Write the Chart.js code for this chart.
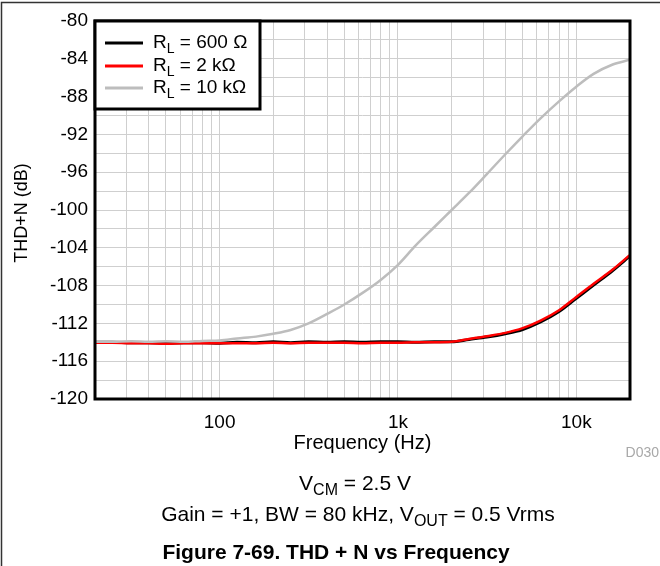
<!DOCTYPE html>
<html>
<head>
<meta charset="utf-8">
<script src="https://cdn.jsdelivr.net/npm/chart.js@4.4.1/dist/chart.umd.min.js"></script>
<style>
  html, body { margin: 0; padding: 0; background: #fff; }
  #c { display: block; }
</style>
</head>
<body>
<canvas id="c" width="660" height="566"></canvas>
<script>
// ---- data ----
const freqs = [20, 25, 32, 40, 50, 63, 80, 100, 125, 160, 200, 250, 315, 400, 500, 630, 800,
  1000, 1250, 1600, 2000, 2500, 3150, 4000, 5000, 6300, 8000, 10000, 12500, 16000, 20000];

const thd600 = [-114.0, -114.0, -114.05, -114.05, -114.1, -114.05, -114.05, -114.1, -114.0, -114.05,
  -113.95, -114.05, -113.95, -114.0, -113.95, -114.0, -113.95, -113.95, -114.0, -113.95, -113.95,
  -113.7, -113.45, -113.1, -112.65, -111.85, -110.75, -109.35, -107.95, -106.4, -104.85];

const thd2k = [-114.05, -114.05, -114.1, -114.1, -114.15, -114.1, -114.1, -114.1, -114.1, -114.1,
  -114.05, -114.1, -114.05, -114.05, -114.05, -114.1, -114.05, -114.05, -114.0, -114.0, -113.95,
  -113.65, -113.35, -113.0, -112.5, -111.7, -110.6, -109.2, -107.8, -106.3, -104.75];

const thd10k = [-113.95, -113.95, -113.9, -113.95, -113.9, -113.95, -113.85, -113.8, -113.6, -113.4,
  -113.1, -112.7, -112.0, -111.0, -110.0, -108.8, -107.4, -105.8, -103.8, -101.8, -100.0,
  -98.2, -96.2, -94.1, -92.2, -90.3, -88.5, -86.95, -85.6, -84.6, -84.1];

const seriesNames = [
  [{t: 'R'}, {t: 'L', sub: true}, {t: ' = 600 Ω'}],
  [{t: 'R'}, {t: 'L', sub: true}, {t: ' = 2 kΩ'}],
  [{t: 'R'}, {t: 'L', sub: true}, {t: ' = 10 kΩ'}]
];
const seriesColors = ['#000000', '#ff0000', '#bdbdbd'];

const xGridValues = [20, 30, 40, 50, 60, 70, 80, 90, 100, 200, 300, 400, 500, 600, 700, 800, 900,
  1000, 2000, 3000, 4000, 5000, 6000, 7000, 8000, 9000, 10000, 20000];
const xTickLabels = {100: '100', 1000: '1k', 10000: '10k'};

const yGridValues = [-120, -118, -116, -114, -112, -110, -108, -106, -104, -102, -100,
  -98, -96, -94, -92, -90, -88, -86, -84, -82, -80];
const yTickLabels = [-120, -116, -112, -108, -104, -100, -96, -92, -88, -84, -80];

const xTitle = 'Frequency (Hz)';
const yTitle = 'THD+N (dB)';
const noteLine1 = [{t: 'V'}, {t: 'CM', sub: true}, {t: ' = 2.5 V'}];
const noteLine2 = [{t: 'Gain = +1, BW = 80 kHz, V'}, {t: 'OUT', sub: true}, {t: ' = 0.5 Vrms'}];
const figTitle = 'Figure 7-69. THD + N vs Frequency';
const docId = 'D030';

// ---- helpers ----
const FONT = "'Liberation Sans', Arial, Helvetica, sans-serif";
function pts(vals) { return freqs.map((f, i) => ({x: f, y: vals[i]})); }

function richWidth(ctx, parts, size, weight) {
  let w = 0;
  for (const p of parts) {
    ctx.font = `${weight} ${p.sub ? Math.round(size * 0.76) : size}px ${FONT}`;
    w += ctx.measureText(p.t).width;
  }
  return w;
}
function drawRich(ctx, parts, x, y, size, align, weight = 'normal', color = '#000') {
  const w = richWidth(ctx, parts, size, weight);
  let cx = align === 'center' ? x - w / 2 : (align === 'right' ? x - w : x);
  ctx.fillStyle = color;
  ctx.textBaseline = 'middle';
  ctx.textAlign = 'left';
  for (const p of parts) {
    const s = p.sub ? Math.round(size * 0.76) : size;
    ctx.font = `${weight} ${s}px ${FONT}`;
    ctx.fillText(p.t, cx, p.sub ? y + size * 0.3 : y);
    cx += ctx.measureText(p.t).width;
  }
}

const decorPlugin = {
  id: 'decor',
  afterDraw(chart) {
    const ctx = chart.ctx;
    const a = chart.chartArea;
    ctx.save();
    // outer figure border (top and left)
    ctx.strokeStyle = '#333';
    ctx.lineWidth = 1.5;
    ctx.beginPath();
    ctx.moveTo(1.5, 566);
    ctx.lineTo(1.5, 2.5);
    ctx.lineTo(660, 2.5);
    ctx.stroke();

    // plot frame
    ctx.strokeStyle = '#000';
    ctx.lineWidth = 3;
    ctx.strokeRect(a.left, a.top, a.right - a.left, a.bottom - a.top);

    // legend box
    const lx = a.left, ly = a.top, lw = 165, lh = 88;
    ctx.fillStyle = '#fff';
    ctx.fillRect(lx, ly, lw, lh);
    ctx.strokeRect(lx, ly, lw, lh);
    const rowY = [ly + 22, ly + 45, ly + 67];
    for (let i = 0; i < 3; i++) {
      ctx.strokeStyle = seriesColors[i];
      ctx.lineWidth = 3;
      ctx.beginPath();
      ctx.moveTo(lx + 10, rowY[i]);
      ctx.lineTo(lx + 48, rowY[i]);
      ctx.stroke();
      drawRich(ctx, seriesNames[i], lx + 58, rowY[i], 19, 'left');
    }

    // axis titles
    ctx.save();
    ctx.translate(22, 213);
    ctx.rotate(-Math.PI / 2);
    ctx.fillStyle = '#000';
    ctx.font = `18px ${FONT}`;
    ctx.textAlign = 'center';
    ctx.textBaseline = 'middle';
    ctx.fillText(yTitle, 0, 0);
    ctx.restore();

    drawRich(ctx, [{t: xTitle}], (a.left + a.right) / 2, 443, 20, 'center');
    drawRich(ctx, [{t: docId}], 659, 453, 14, 'right', 'normal', '#a8a8a8');
    drawRich(ctx, noteLine1, 355, 484, 21, 'center');
    drawRich(ctx, noteLine2, 358, 515, 21, 'center');
    drawRich(ctx, [{t: figTitle}], 336, 553, 21, 'center', 'bold');
    ctx.restore();
  }
};

new Chart(document.getElementById('c'), {
  type: 'line',
  data: {
    datasets: [
      {label: 'RL = 600 Ω', data: pts(thd600), borderColor: seriesColors[0], borderWidth: 3, order: 2},
      {label: 'RL = 2 kΩ', data: pts(thd2k), borderColor: seriesColors[1], borderWidth: 2.5, order: 1},
      {label: 'RL = 10 kΩ', data: pts(thd10k), borderColor: seriesColors[2], borderWidth: 2.5, order: 0}
    ]
  },
  options: {
    responsive: false,
    devicePixelRatio: 1,
    animation: false,
    elements: {point: {radius: 0}, line: {cubicInterpolationMode: 'monotone', borderJoinStyle: 'round'}},
    layout: {padding: {top: 21, right: 30, left: 0, bottom: 0}},
    plugins: {legend: {display: false}, tooltip: {enabled: false}, title: {display: false}},
    scales: {
      x: {
        type: 'logarithmic',
        min: 20, max: 20000,
        afterBuildTicks: s => { s.ticks = xGridValues.map(v => ({value: v})); },
        afterFit: s => { s.height = 167; },
        grid: {color: '#cfcfcf', lineWidth: 1, drawTicks: false},
        border: {display: false},
        ticks: {
          autoSkip: false, maxRotation: 0, padding: 12, color: '#000',
          font: {size: 19, family: FONT},
          callback: v => xTickLabels[v] || ''
        }
      },
      y: {
        type: 'linear',
        min: -120, max: -80,
        afterBuildTicks: s => { s.ticks = yGridValues.map(v => ({value: v})); },
        afterFit: s => { s.width = 95; },
        grid: {color: '#cfcfcf', lineWidth: 1, drawTicks: false},
        border: {display: false},
        ticks: {
          autoSkip: false, padding: 7, color: '#000',
          font: {size: 19, family: FONT},
          callback: v => yTickLabels.includes(v) ? String(v) : ''
        }
      }
    }
  },
  plugins: [decorPlugin]
});
</script>
</body>
</html>
